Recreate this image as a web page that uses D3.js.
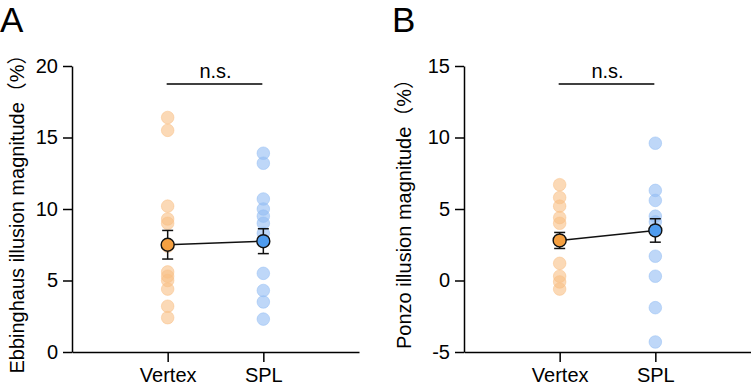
<!DOCTYPE html>
<html>
<head>
<meta charset="utf-8">
<script src="https://cdn.jsdelivr.net/npm/d3@7"></script>
<style>
  body { margin: 0; background: #fff; }
  svg { display: block; font-family: Arial, "Liberation Sans", "Noto Sans CJK SC", sans-serif; }
  .axis path, .axis line { stroke: #000; stroke-width: 1.5; }
  .axis text { font-size: 20px; fill: #000; }
</style>
</head>
<body>
<svg id="vis" width="751" height="387"></svg>
<script>
// categories
const groups = ["Vertex", "SPL"];

// panel A: Ebbinghaus illusion magnitude (%)
const ebbVertex = [16.4, 15.5, 10.2, 9.3, 9.0, 7.4, 5.6, 5.3, 5.0, 4.4, 3.2, 2.4];
const ebbSPL = [13.9, 13.2, 10.7, 10.0, 9.5, 9.0, 8.3, 5.5, 4.3, 3.5, 2.3];
const ebbMean = [7.5, 7.75];
const ebbSem = [1.0, 0.87];
const ebbTicks = [0, 5, 10, 15, 20];

// panel B: Ponzo illusion magnitude (%)
const ponVertex = [6.7, 5.8, 5.2, 4.4, 4.0, 1.2, 0.3, -0.1, -0.6];
const ponSPL = [9.6, 6.3, 5.6, 4.5, 4.1, 1.7, 0.3, -1.9, -4.3];
const ponMean = [2.8, 3.5];
const ponSem = [0.56, 0.82];
const ponTicks = [-5, 0, 5, 10, 15];

const colors = {
  light: ["#f9bf86", "#93bdf4"],
  mean: ["#f5a041", "#4f9cef"]
};

const svg = d3.select("svg#vis");

const panels = [
  {
    letter: "A", left: 72, title: "Ebbinghaus illusion magnitude\uFF08%\uFF09",
    domain: [0, 20], ticks: ebbTicks, points: [ebbVertex, ebbSPL],
    mean: ebbMean, sem: ebbSem, letterX: 0, titleX: 24
  },
  {
    letter: "B", left: 464, title: "Ponzo illusion magnitude\uFF08%\uFF09",
    domain: [-5, 15], ticks: ponTicks, points: [ponVertex, ponSPL],
    mean: ponMean, sem: ponSem, letterX: 392, titleX: 411
  }
];

const plotTop = 66, plotBottom = 352, axisWidth = 287;

panels.forEach(function(p) {
  const g = svg.append("g");

  const x = d3.scalePoint()
    .domain(groups)
    .range([p.left, p.left + axisWidth])
    .padding(1);

  const y = d3.scaleLinear()
    .domain(p.domain)
    .range([plotBottom, plotTop]);

  // panel letter
  g.append("text")
    .attr("x", p.letterX)
    .attr("y", 32)
    .attr("font-size", 35)
    .text(p.letter);

  // y axis title
  g.append("text")
    .attr("transform", `translate(${p.titleX},${(plotTop + plotBottom) / 2}) rotate(-90)`)
    .attr("text-anchor", "middle")
    .attr("font-size", 20)
    .text(p.title);

  // axes
  g.append("g")
    .attr("class", "axis")
    .attr("transform", `translate(${p.left},0)`)
    .call(d3.axisLeft(y).tickValues(p.ticks).tickSize(9).tickSizeOuter(0).tickPadding(5))
    .call(a => a.selectAll("text").text(d => d));

  g.append("g")
    .attr("class", "axis")
    .attr("transform", `translate(0,${plotBottom})`)
    .call(d3.axisBottom(x).tickSize(10).tickSizeOuter(0).tickPadding(6));

  // individual subjects
  p.points.forEach(function(vals, i) {
    g.append("g").selectAll("circle")
      .data(vals)
      .enter()
      .append("circle")
      .attr("cx", x(groups[i]))
      .attr("cy", d => y(d))
      .attr("r", 6.3)
      .attr("fill", colors.light[i])
      .attr("fill-opacity", 0.6)
      .attr("stroke", colors.light[i])
      .attr("stroke-opacity", 0.5)
      .attr("stroke-width", 1);
  });

  // connecting line between means
  g.append("path")
    .attr("d", d3.line().x((d, i) => x(groups[i])).y(d => y(d))(p.mean))
    .attr("fill", "none")
    .attr("stroke", "#111")
    .attr("stroke-width", 1.5);

  // error bars
  p.mean.forEach(function(m, i) {
    const cx = x(groups[i]);
    const eb = g.append("g").attr("stroke", "#111").attr("stroke-width", 1.5);
    eb.append("line").attr("x1", cx).attr("x2", cx).attr("y1", y(m + p.sem[i])).attr("y2", y(m - p.sem[i]));
    eb.append("line").attr("x1", cx - 5.5).attr("x2", cx + 5.5).attr("y1", y(m + p.sem[i])).attr("y2", y(m + p.sem[i]));
    eb.append("line").attr("x1", cx - 5.5).attr("x2", cx + 5.5).attr("y1", y(m - p.sem[i])).attr("y2", y(m - p.sem[i]));
    g.append("circle")
      .attr("cx", cx)
      .attr("cy", y(m))
      .attr("r", 6.5)
      .attr("fill", colors.mean[i])
      .attr("stroke", "#111")
      .attr("stroke-width", 1.4);
  });

  // significance bar
  g.append("line")
    .attr("x1", x(groups[0]) - 1)
    .attr("x2", x(groups[1]) - 1)
    .attr("y1", 84)
    .attr("y2", 84)
    .attr("stroke", "#000")
    .attr("stroke-width", 1.5);

  g.append("text")
    .attr("x", (x(groups[0]) + x(groups[1])) / 2)
    .attr("y", 78)
    .attr("text-anchor", "middle")
    .attr("font-size", 20)
    .text("n.s.");
});
</script>
</body>
</html>
